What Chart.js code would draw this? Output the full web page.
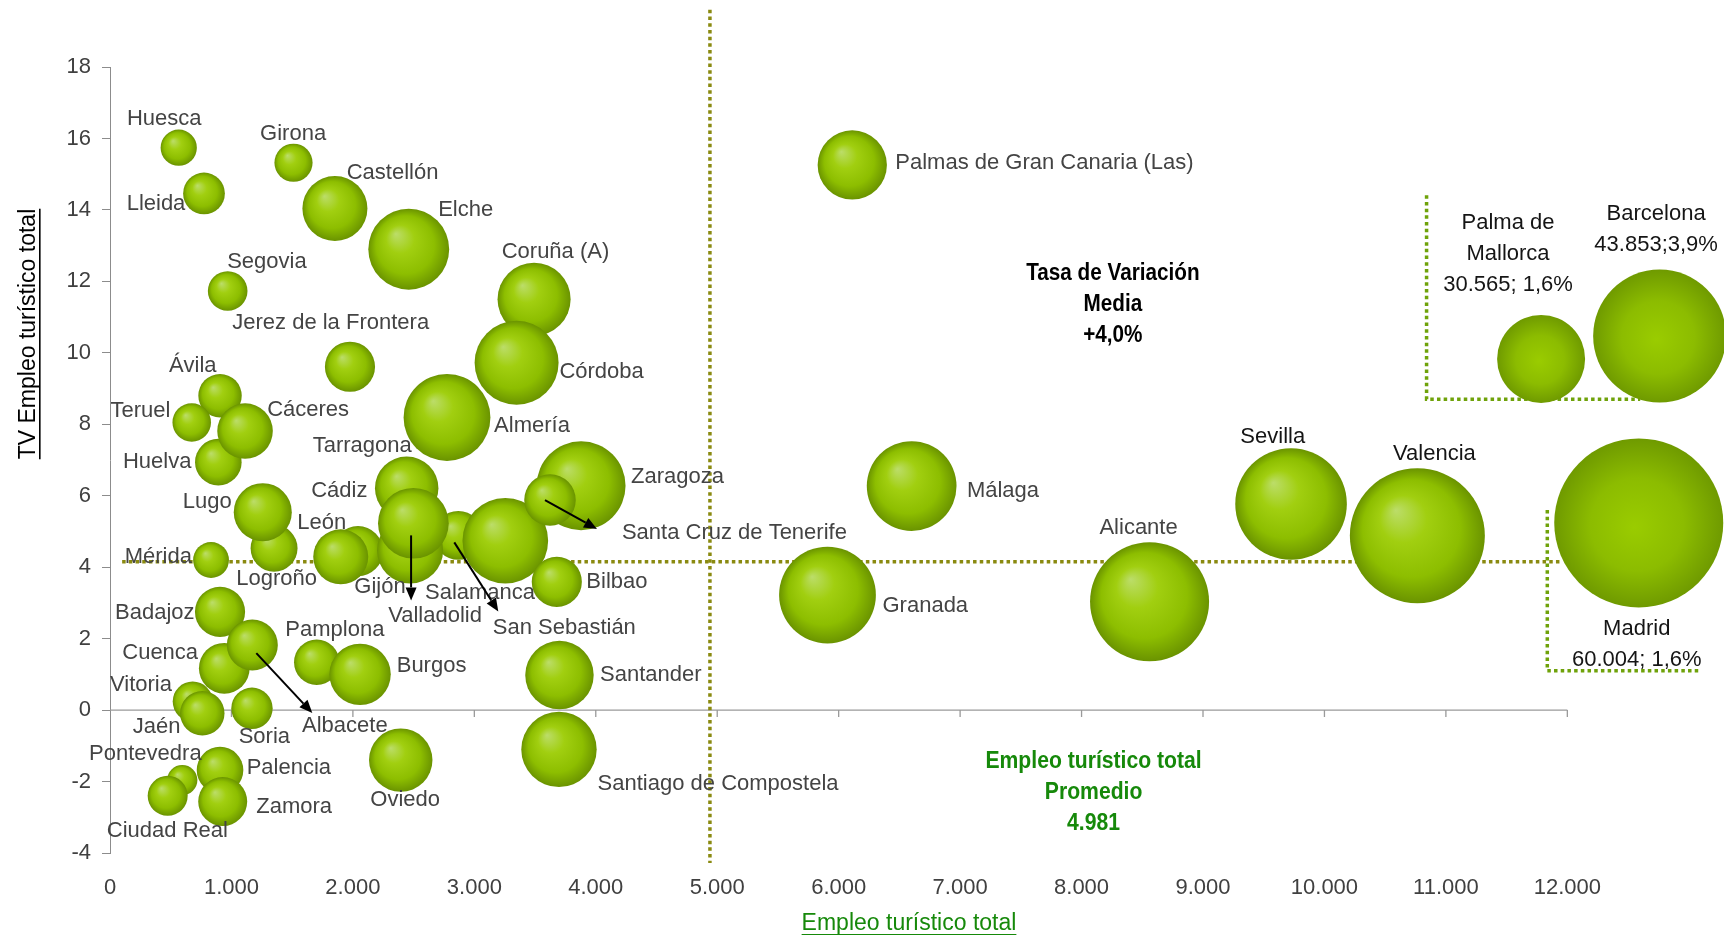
<!DOCTYPE html>
<html lang="es">
<head>
<meta charset="utf-8">
<title>Empleo turístico total y tasa de variación</title>
<script src="https://cdn.jsdelivr.net/npm/chart.js@4.4.1/dist/chart.umd.min.js"></script>
<style>
  html, body { margin: 0; padding: 0; background: #fff; }
  canvas { display: block; }
</style>
</head>
<body>
<canvas id="grafico" width="1724" height="935"></canvas>
<script>
// Empleo turístico total (eje X) frente a la TV del empleo turístico (eje Y)
// Madrid, Barcelona y Palma van en los recuadros de la derecha, fuera de escala

const ciudades = [
  'Madrid', 'Barcelona', 'Palma de Mallorca', 'Valencia', 'Alicante', 'Sevilla',
  'Granada', 'Málaga', 'Zaragoza', 'San Sebastián', 'Salamanca', 'Santa Cruz de Tenerife',
  'Almería', 'Coruña (A)', 'Córdoba', 'Elche', 'Santiago de Compostela',
  'Palmas de Gran Canaria (Las)', 'Santander', 'Castellón', 'Gijón', 'Valladolid',
  'Tarragona', 'Cádiz', 'Oviedo', 'Pamplona', 'Burgos', 'León', 'Logroño', 'Lugo',
  'Ávila', 'Huelva', 'Cáceres', 'Jerez de la Frontera', 'Bilbao', 'Badajoz', 'Cuenca',
  'Albacete', 'Vitoria', 'Jaén', 'Soria', 'Pontevedra', 'Ciudad Real', 'Palencia',
  'Zamora', 'Teruel', 'Mérida', 'Lleida', 'Huesca', 'Girona', 'Segovia'
];
const empleo = [
  12588, 12760, 11784, 10765, 8560, 9725,
  5908, 6601, 3879, 2868, 3255, 3623,
  2775, 3492, 3348, 2460, 3697,
  6112, 3701, 1852, 2042, 2471,
  2443, 2498, 2394, 1702, 2059, 1900, 1351, 1258,
  906, 892, 1112, 1976, 3679, 906, 941,
  1172, 681, 760, 1169, 595, 475, 906,
  928, 673, 832, 774, 566, 1511, 969
];
const tasaVariacion = [
  5.24, 10.47, 9.83, 4.88, 3.03, 5.77,
  3.22, 6.27, 6.28, 4.89, 4.74, 5.88,
  8.19, 11.50, 9.72, 12.90, -1.10,
  15.26, 0.98, 14.04, 4.45, 4.47,
  6.21, 5.23, -1.40, 1.34, 1.00, 4.29, 4.53, 5.54,
  8.80, 6.94, 7.81, 9.61, 3.59, 2.75, 1.17,
  1.82, 0.24, -0.09, 0.05, -1.96, -2.40, -1.68,
  -2.56, 8.05, 4.20, 14.46, 15.74, 15.32, 11.73
];
// tamaño relativo de la burbuja (Madrid = 100)
const tamano = [
  100, 61.9, 27.1, 63.8, 49.6, 43.6,
  32.8, 28.2, 27.7, 8.4, 25.7, 9.3,
  26.4, 18.7, 24.7, 22.9, 19.9,
  16.8, 16.4, 14.8, 8.8, 15.3,
  14.1, 17.5, 14.1, 7.2, 13.2, 10.6, 7.7, 11.8,
  6.6, 7.6, 10.8, 8.8, 8.8, 8.8, 9.0,
  9.1, 5.6, 6.9, 6.0, 3.2, 5.6, 7.6,
  8.4, 5.2, 4.5, 6.1, 4.6, 5.1, 5.5
];
// valores reales de las tres ciudades del recuadro
const textoRecuadro = {
  'Palma de Mallorca': ['Palma de', 'Mallorca', '30.565; 1,6%'],
  'Barcelona': ['Barcelona', '43.853;3,9%'],
  'Madrid': ['Madrid', '60.004; 1,6%']
};

const ticksX = [0, 1000, 2000, 3000, 4000, 5000, 6000, 7000, 8000, 9000, 10000, 11000, 12000];
const ticksY = [-4, -2, 0, 2, 4, 6, 8, 10, 12, 14, 16, 18];

const mediaTasa = 4.15;        // línea de la tasa media (+4,0%)
const promedioEmpleo = 4940;   // línea del promedio (4.981)

const FUENTE = "'Liberation Sans', Arial, sans-serif";
const VERDE_TXT = '#16890a';
const R_MAX = 84.5;

// posición de cada etiqueta respecto al centro de su burbuja (px)
const posEtiqueta = {
  'Huesca': [-14.5, -28.7], 'Girona': [-0.4, -28.4], 'Lleida': [-48, 10.7],
  'Castellón': [57.6, -36], 'Elche': [56.9, -39.3], 'Segovia': [39.2, -28.7],
  'Coruña (A)': [21.4, -47.5], 'Jerez de la Frontera': [-19.3, -43.4],
  'Córdoba': [85, 9], 'Almería': [85, 8.4], 'Ávila': [-27.3, -30],
  'Teruel': [-51.3, -11.6], 'Cáceres': [63.1, -21], 'Huelva': [-61.2, 0],
  'Lugo': [-55.5, -10.6], 'Logroño': [2.5, 30.7], 'Mérida': [-52.7, -3.3],
  'León': [-19, -34], 'Gijón': [22, 35.7], 'Tarragona': [-44.5, -42.6],
  'Cádiz': [-74.1, -32.6], 'Valladolid': [25, 65.4], 'San Sebastián': [106, 92.2],
  'Salamanca': [-25.3, 52], 'Santa Cruz de Tenerife': [184.4, 33.3],
  'Zaragoza': [96.5, -9], 'Bilbao': [60.1, 0], 'Badajoz': [-65.2, 0.6],
  'Albacete': [92.5, 81], 'Cuenca': [-64.1, -15], 'Pamplona': [18.2, -32.3],
  'Burgos': [71.5, -8.6], 'Vitoria': [-51.7, -16.7], 'Jaén': [-45.6, 14],
  'Soria': [12.4, 29], 'Oviedo': [4.4, 40], 'Pontevedra': [-36.9, -26],
  'Palencia': [68.8, -1.7], 'Ciudad Real': [-0.3, 34.7], 'Zamora': [71.4, 5.6],
  'Palmas de Gran Canaria (Las)': [192.2, -1.7], 'Málaga': [91.3, 4.7],
  'Granada': [97.8, 10.7], 'Alicante': [-11, -74.3], 'Santander': [91.3, 0],
  'Santiago de Compostela': [159.1, 34.7], 'Sevilla': [-18.3, -67.3],
  'Valencia': [17.1, -81.4], 'Madrid': [-2, 105.6], 'Barcelona': [-3.5, -122],
  'Palma de Mallorca': [-33.1, -136]
};
const etiquetasOscuras = ['Sevilla', 'Valencia', 'Madrid', 'Barcelona', 'Palma de Mallorca'];

// flechas: desde / hasta, desplazamientos respecto al centro de la burbuja
const flechas = [
  { ciudad: 'Valladolid', desde: [1, -15], hasta: [1, 50] },
  { ciudad: 'San Sebastián', desde: [-4, 7], hasta: [40, 76] },
  { ciudad: 'Santa Cruz de Tenerife', desde: [-5, 0], hasta: [47, 29] },
  { ciudad: 'Albacete', desde: [4, 8], hasta: [60, 68] }
];

// recuadros punteados de la derecha (en unidades de datos)
const recuadros = [
  [[10841, 14.41], [10841, 8.70], [12600, 8.70]],
  [[11835, 5.60], [11835, 1.10], [13086, 1.10]]
];

const puntos = ciudades.map((c, i) => ({
  x: empleo[i], y: tasaVariacion[i], r: R_MAX * Math.sqrt(tamano[i] / 100)
}));

function miles(v) {
  return String(v).replace(/\B(?=(\d{3})+(?!\d))/g, '.');
}

function relleno(context) {
  if (context.type !== 'data') return '#99cc00';
  const chart = context.chart;
  const p = context.raw;
  const cx = chart.scales.x.getPixelForValue(p.x);
  const cy = chart.scales.y.getPixelForValue(p.y);
  const r = p.r;
  if (!isFinite(cx) || !isFinite(cy)) return '#99cc00';
  const ctx = chart.ctx;
  let g;
  if (textoRecuadro[ciudades[context.dataIndex]]) {
    g = ctx.createRadialGradient(cx - r * 0.05, cy + r * 0.05, 0, cx, cy, r);
    g.addColorStop(0, '#9acc00');
    g.addColorStop(0.55, '#8cbc00');
    g.addColorStop(1, '#6f9a00');
  } else {
    g = ctx.createRadialGradient(cx - r * 0.32, cy - r * 0.38, 0, cx, cy, r);
    g.addColorStop(0, '#bcdd6a');
    g.addColorStop(0.35, '#a1cf10');
    g.addColorStop(0.72, '#8dbe00');
    g.addColorStop(1, '#6a9300');
  }
  return g;
}

function punteada(ctx, pts, color) {
  ctx.save();
  ctx.strokeStyle = color;
  ctx.lineWidth = 3.5;
  ctx.setLineDash([3.5, 3.2]);
  ctx.beginPath();
  pts.forEach((p, i) => i ? ctx.lineTo(p[0], p[1]) : ctx.moveTo(p[0], p[1]));
  ctx.stroke();
  ctx.restore();
}

// sx < 1 estrecha el texto (imita la fuente condensada del original)
function texto(ctx, t, x, y, font, color, subrayado, sx) {
  ctx.save();
  ctx.font = font;
  ctx.fillStyle = color;
  ctx.textAlign = 'center';
  ctx.textBaseline = 'middle';
  ctx.translate(x, y);
  ctx.scale(sx || 1, 1);
  ctx.fillText(t, 0, 0);
  if (subrayado) {
    const w = ctx.measureText(t).width;
    ctx.fillRect(-w / 2, 10, w, 1.6);
  }
  ctx.restore();
}

const fondo = {
  id: 'fondo',
  beforeDatasetsDraw(chart) {
    const { ctx, scales: { x, y } } = chart;
    const y0 = y.getPixelForValue(0);
    // eje horizontal en y = 0
    ctx.save();
    ctx.strokeStyle = '#9a9a9a';
    ctx.lineWidth = 1.3;
    ctx.beginPath();
    ctx.moveTo(x.getPixelForValue(0), y0);
    ctx.lineTo(x.getPixelForValue(ticksX[ticksX.length - 1]), y0);
    ticksX.slice(1).forEach(v => {
      const px = x.getPixelForValue(v);
      ctx.moveTo(px, y0);
      ctx.lineTo(px, y0 + 7);
    });
    ctx.stroke();
    ctx.restore();

    const oliva = '#8a8a10';
    punteada(ctx, [[x.getPixelForValue(promedioEmpleo), y.getPixelForValue(19.6)],
                   [x.getPixelForValue(promedioEmpleo), y.getPixelForValue(-4.28)]], oliva);
    punteada(ctx, [[x.getPixelForValue(100), y.getPixelForValue(mediaTasa)],
                   [x.getPixelForValue(11960), y.getPixelForValue(mediaTasa)]], oliva);
    recuadros.forEach(r => punteada(ctx,
      r.map(p => [x.getPixelForValue(p[0]), y.getPixelForValue(p[1])]), '#6fa20a'));
  },
  afterDatasetsDraw(chart) {
    const { ctx } = chart;
    const meta = chart.getDatasetMeta(0);
    ctx.save();
    meta.data.forEach((el, i) => {
      const nombre = ciudades[i];
      const [dx, dy] = posEtiqueta[nombre];
      const lineas = textoRecuadro[nombre] || [nombre];
      const color = etiquetasOscuras.includes(nombre) ? '#151515' : '#444444';
      lineas.forEach((t, k) =>
        texto(ctx, t, el.x + dx, el.y + dy + k * 31, '22px ' + FUENTE, color));
    });
    // flechas
    ctx.strokeStyle = '#000';
    ctx.fillStyle = '#000';
    ctx.lineWidth = 2;
    flechas.forEach(f => {
      const el = meta.data[ciudades.indexOf(f.ciudad)];
      const x1 = el.x + f.desde[0], y1 = el.y + f.desde[1];
      const x2 = el.x + f.hasta[0], y2 = el.y + f.hasta[1];
      const a = Math.atan2(y2 - y1, x2 - x1);
      const L = 13, W = 5.5;
      const bx = x2 - L * Math.cos(a), by = y2 - L * Math.sin(a);
      ctx.beginPath();
      ctx.moveTo(x1, y1);
      ctx.lineTo(bx, by);
      ctx.stroke();
      ctx.beginPath();
      ctx.moveTo(x2, y2);
      ctx.lineTo(bx + W * Math.sin(a), by - W * Math.cos(a));
      ctx.lineTo(bx - W * Math.sin(a), by + W * Math.cos(a));
      ctx.closePath();
      ctx.fill();
    });
    ctx.restore();
  },
  afterDraw(chart) {
    const { ctx, scales: { x, y } } = chart;
    ctx.save();
    // notas
    const tx = x.getPixelForValue(8258), ty = y.getPixelForValue(12.21);
    ['Tasa de Variación', 'Media', '+4,0%'].forEach((t, k) =>
      texto(ctx, t, tx, ty + k * 30.7, 'bold 23px ' + FUENTE, '#000', false, 0.9));
    const gx = x.getPixelForValue(8099), gy = y.getPixelForValue(-1.45);
    ['Empleo turístico total', 'Promedio', miles(4981)].forEach((t, k) =>
      texto(ctx, t, gx, gy + k * 30.7, 'bold 23px ' + FUENTE, VERDE_TXT, false, 0.92));
    // títulos de los ejes
    texto(ctx, 'Empleo turístico total', 909, 924, '23px ' + FUENTE, VERDE_TXT, true);
    ctx.translate(29, 334);
    ctx.rotate(-Math.PI / 2);
    texto(ctx, 'TV Empleo turístico total', 0, 0, '23px ' + FUENTE, '#000', true);
    ctx.restore();
  }
};

new Chart(document.getElementById('grafico'), {
  type: 'bubble',
  data: {
    datasets: [{
      data: puntos,
      backgroundColor: relleno,
      borderWidth: 0,
      hoverBorderWidth: 0,
      clip: false
    }]
  },
  options: {
    responsive: false,
    animation: false,
    events: [],
    layout: { autoPadding: false, padding: { top: 67, right: 0, bottom: 0, left: 0 } },
    plugins: {
      legend: { display: false },
      tooltip: { enabled: false }
    },
    scales: {
      x: {
        type: 'linear',
        min: 0,
        max: 13290,
        afterBuildTicks: s => { s.ticks = ticksX.map(v => ({ value: v })); },
        afterFit: s => { s.height = 82; },
        ticks: {
          autoSkip: false,
          maxRotation: 0,
          padding: 22,
          color: '#404040',
          font: { family: FUENTE, size: 22 },
          callback: v => miles(v)
        },
        grid: { display: false, drawTicks: false },
        border: { display: false }
      },
      y: {
        type: 'linear',
        min: -4,
        max: 18,
        afterBuildTicks: s => { s.ticks = ticksY.map(v => ({ value: v })); },
        afterFit: s => { s.width = 110; },
        ticks: {
          padding: 11,
          color: '#404040',
          font: { family: FUENTE, size: 22 }
        },
        grid: {
          display: true,
          drawOnChartArea: false,
          drawTicks: true,
          tickLength: 8,
          tickColor: '#8c8c8c'
        },
        border: { display: true, color: '#8c8c8c' }
      }
    }
  },
  plugins: [fondo]
});
</script>
</body>
</html>
